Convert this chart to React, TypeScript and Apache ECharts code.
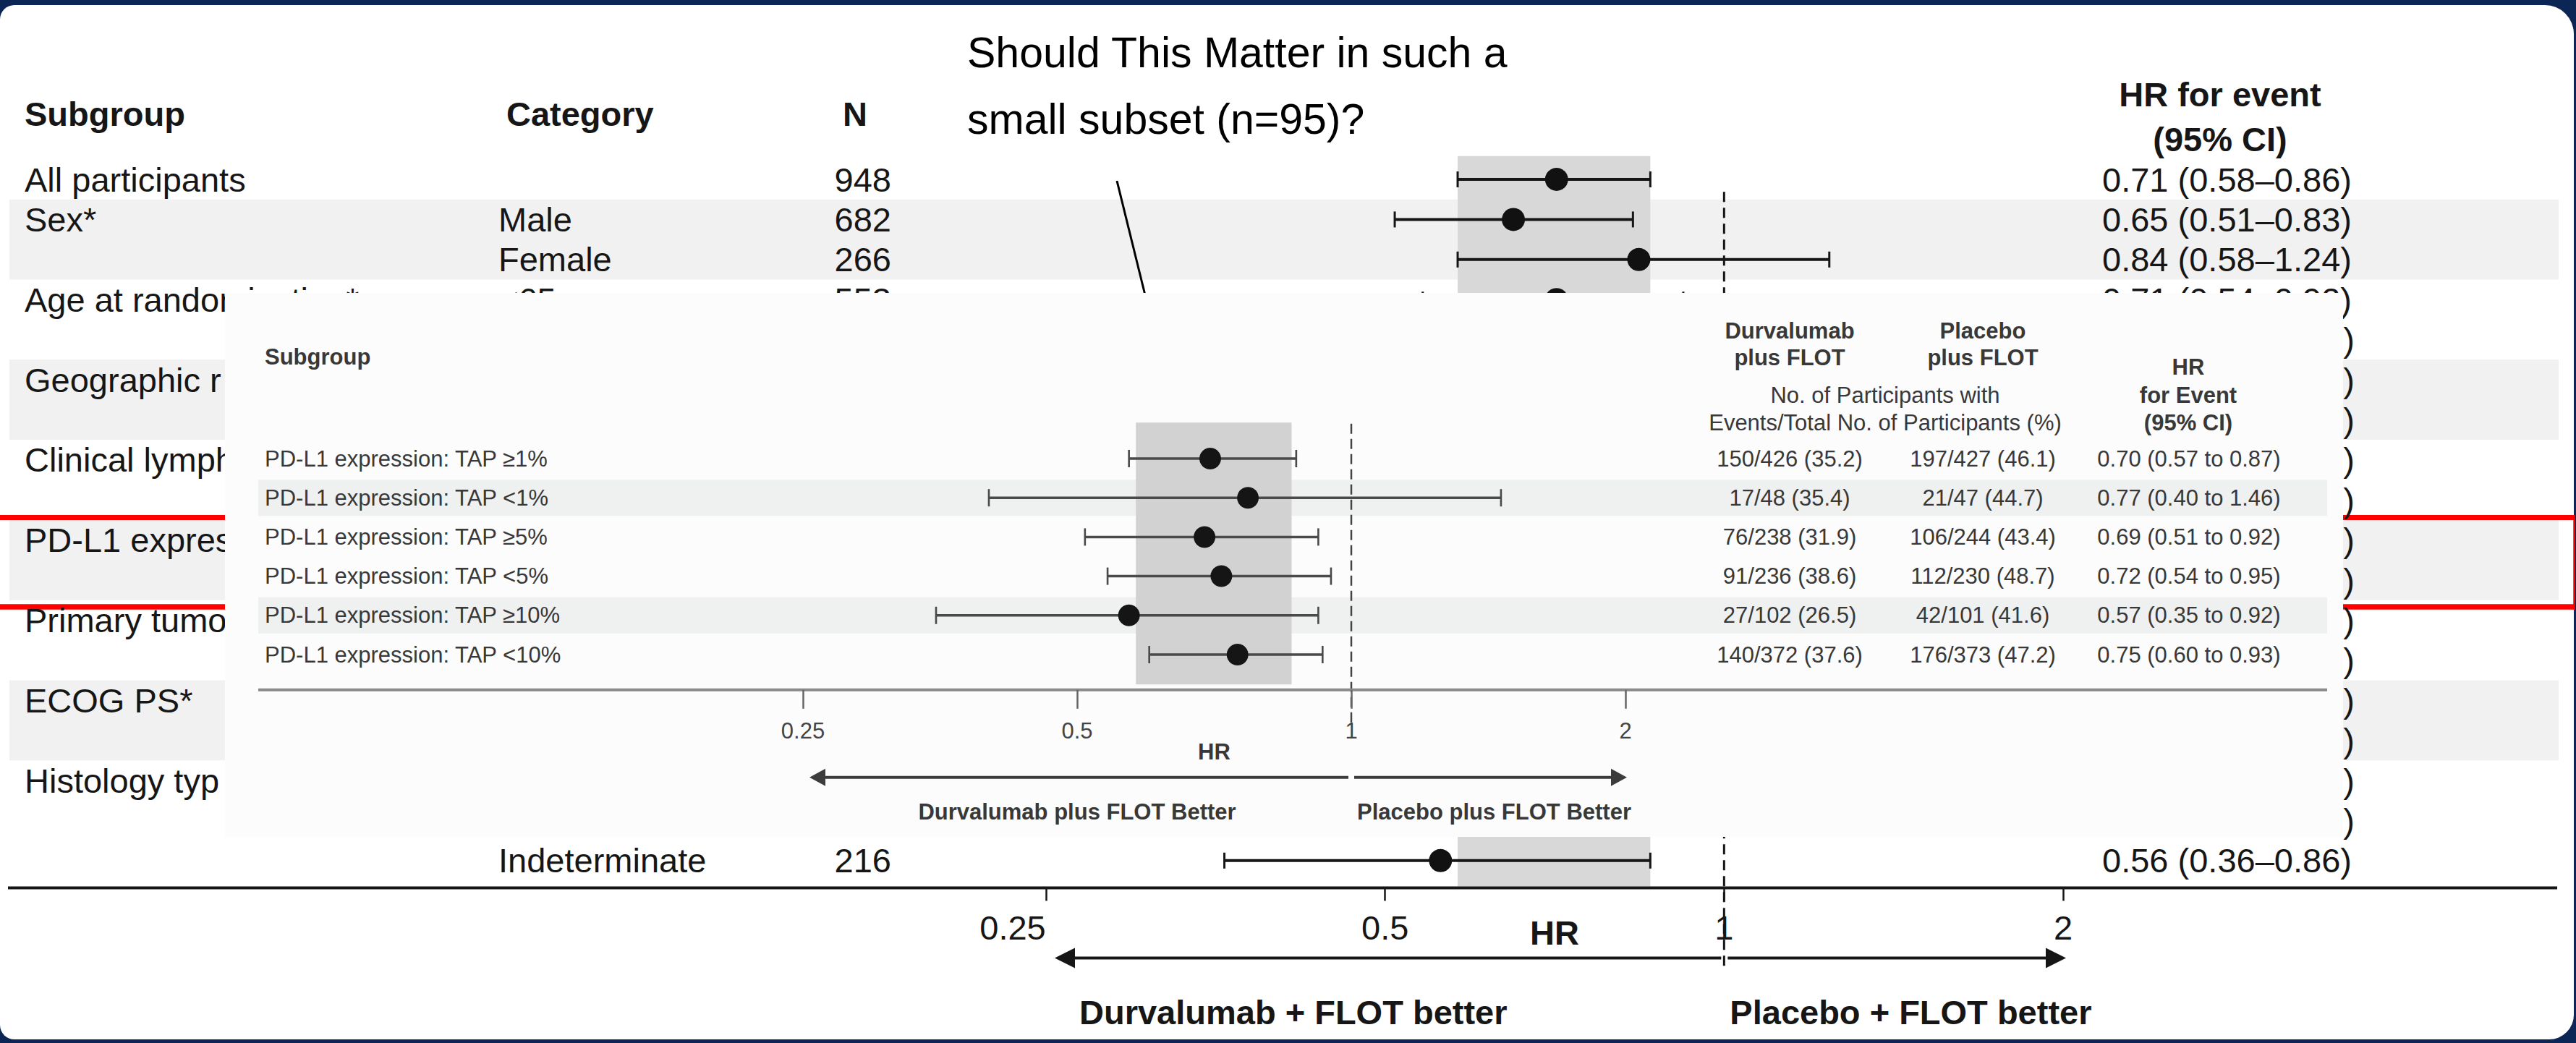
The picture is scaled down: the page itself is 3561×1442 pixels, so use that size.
import React, { useEffect, useRef } from "react";
import * as echarts from "echarts";

const FONT = "'Liberation Sans', Arial, Helvetica, sans-serif";
const INK = "#161616";
const INSET_INK = "#383838";

// ---------- main forest plot (partly covered by the inset) ----------
const subgroupNames = [
  "All participants",
  "Sex*",
  "Age at randomization*",
  "Geographic region",
  "Clinical lymph node status",
  "PD-L1 expression",
  "Primary tumor location",
  "ECOG PS*",
  "Histology type",
];
const subgroupRows = [0, 1, 3, 5, 7, 9, 11, 13, 15];
const shadedGroupStartRows = [1, 5, 9, 13];
const mainRows = [0, 1, 2, 3, 17];
const mainCategories = ["", "Male", "Female", "<65 years", "Indeterminate"];
const mainN = [948, 682, 266, 553, 216];
const mainHR = [0.71, 0.65, 0.84, 0.71, 0.56];
const mainLower = [0.58, 0.51, 0.58, 0.54, 0.36];
const mainUpper = [0.86, 0.83, 1.24, 0.92, 0.86];
const coveredRows = [4, 5, 6, 7, 8, 9, 10, 11, 12, 13, 14, 15, 16];
const overallCI = [0.58, 0.86];

// ---------- inset (PD-L1 subgroups) ----------
const insetLabels = [
  "PD-L1 expression: TAP \u22651%",
  "PD-L1 expression: TAP <1%",
  "PD-L1 expression: TAP \u22655%",
  "PD-L1 expression: TAP <5%",
  "PD-L1 expression: TAP \u226510%",
  "PD-L1 expression: TAP <10%",
];
const insetDurva = ["150/426 (35.2)", "17/48 (35.4)", "76/238 (31.9)", "91/236 (38.6)", "27/102 (26.5)", "140/372 (37.6)"];
const insetPlacebo = ["197/427 (46.1)", "21/47 (44.7)", "106/244 (43.4)", "112/230 (48.7)", "42/101 (41.6)", "176/373 (47.2)"];
const insetHR = [0.7, 0.77, 0.69, 0.72, 0.57, 0.75];
const insetLower = [0.57, 0.4, 0.51, 0.54, 0.35, 0.6];
const insetUpper = [0.87, 1.46, 0.92, 0.95, 0.92, 0.93];
const insetShadedRows = [1, 4];

const MAIN_Y = [-0.58, 17.68];
const INSET_Y = [-0.92, 5.9];
const INSET_LEFT = 311;

const f2 = (v: number) => v.toFixed(2);
const tickText = (v: number) => String(Number(v.toFixed(2)));

function txt(text: string, x: number, y: number, size: number, o: any = {}) {
  const align = o.align || "left";
  const v = o.v || "middle";
  const el: any = {
    type: "text",
    x,
    y,
    style: {
      text,
      font: `${o.bold ? "bold " : ""}${size}px ${FONT}`,
      fill: o.color || INK,
      align,
      verticalAlign: v,
      textAlign: align,
      textVerticalAlign: v,
    },
  };
  if (o.width) {
    el.style.width = o.width;
    el.style.overflow = "truncate";
    el.style.ellipsis = "";
  }
  if (o.z !== undefined) el.z = o.z;
  return el;
}

function ln(x1: number, y1: number, x2: number, y2: number, stroke: string, lineWidth: number, dash?: number[], z?: number) {
  const el: any = { type: "line", shape: { x1, y1, x2, y2 }, style: { stroke, lineWidth } };
  if (dash) el.style.lineDash = dash;
  if (z !== undefined) el.z = z;
  return el;
}

function arrowHead(tipX: number, y: number, dir: number, len: number, half: number, fill: string) {
  return {
    type: "polygon",
    shape: { points: [[tipX, y], [tipX - dir * len, y - half], [tipX - dir * len, y + half]] },
    style: { fill },
  };
}

const ciRender = (capH: number, lw: number, color: string) => (params: any, api: any) => {
  const row = api.value(2);
  const a = api.coord([api.value(0), row]);
  const b = api.coord([api.value(1), row]);
  return {
    type: "group",
    children: [
      ln(a[0], a[1], b[0], b[1], color, lw),
      ln(a[0], a[1] - capH / 2, a[0], a[1] + capH / 2, color, lw * 0.75),
      ln(b[0], b[1] - capH / 2, b[0], b[1] + capH / 2, color, lw * 0.75),
    ],
  };
};

function buildOption(): any {
  const series: any[] = [];

  // ---- main chart ----
  series.push({
    type: "custom",
    name: "mainBands",
    xAxisIndex: 0,
    yAxisIndex: 0,
    z: 1,
    silent: true,
    data: shadedGroupStartRows.map((r) => [1, r]),
    renderItem: (params: any, api: any) => {
      const r = api.value(1);
      const y0 = api.coord([1, r - 0.5])[1];
      const y1 = api.coord([1, r + 1.5])[1];
      return { type: "rect", shape: { x: 13, y: y0, width: 3524, height: y1 - y0 }, style: { fill: "#f1f1f1" } };
    },
  });
  series.push({
    type: "custom",
    name: "mainOverallBand",
    xAxisIndex: 0,
    yAxisIndex: 0,
    z: 2,
    silent: true,
    encode: { x: [0, 1] },
    data: [[overallCI[0], overallCI[1]]],
    renderItem: (params: any, api: any) => {
      const p0 = api.coord([api.value(0), MAIN_Y[0]]);
      const p1 = api.coord([api.value(1), MAIN_Y[1]]);
      return { type: "rect", shape: { x: p0[0], y: p0[1], width: p1[0] - p0[0], height: p1[1] - p0[1] - 2 }, style: { fill: "#d8d8d8" } };
    },
  });
  series.push({
    type: "custom",
    name: "mainNull",
    xAxisIndex: 0,
    yAxisIndex: 0,
    z: 4,
    silent: true,
    data: [[1, 0.31]],
    renderItem: (params: any, api: any) => {
      const p = api.coord([api.value(0), api.value(1)]);
      const bottom = api.coord([1, MAIN_Y[1]])[1] + 110;
      return ln(p[0], p[1], p[0], bottom, INK, 3, [14, 8]);
    },
  });
  series.push({
    type: "custom",
    name: "mainCI",
    xAxisIndex: 0,
    yAxisIndex: 0,
    z: 4,
    silent: true,
    encode: { x: [0, 1], y: 2 },
    data: mainRows.map((r, i) => [mainLower[i], mainUpper[i], r]),
    renderItem: ciRender(22, 4, INK),
  });
  series.push({
    type: "scatter",
    name: "mainHR",
    xAxisIndex: 0,
    yAxisIndex: 0,
    z: 5,
    silent: true,
    symbol: "circle",
    symbolSize: 32,
    itemStyle: { color: "#111111", opacity: 1 },
    data: mainRows.map((r, i) => [mainHR[i], r]),
  });
  series.push({
    type: "custom",
    name: "mainTable",
    xAxisIndex: 0,
    yAxisIndex: 0,
    z: 4,
    silent: true,
    data: mainRows.map((r) => [1, r]),
    renderItem: (params: any, api: any) => {
      const i = params.dataIndex;
      const y = api.coord([1, api.value(1)])[1];
      return {
        type: "group",
        children: [
          txt(mainCategories[i], 689, y, 47),
          txt(String(mainN[i]), 1232, y, 47, { align: "right" }),
          txt(`${f2(mainHR[i])} (${f2(mainLower[i])}\u2013${f2(mainUpper[i])})`, 2906, y, 47),
        ],
      };
    },
  });
  series.push({
    type: "custom",
    name: "mainSubgroups",
    xAxisIndex: 0,
    yAxisIndex: 0,
    z: 4,
    silent: true,
    data: subgroupRows.map((r) => [1, r]),
    renderItem: (params: any, api: any) => {
      const r = api.value(1);
      const y = api.coord([1, r])[1];
      // rows beside the inset are cut at the inset's left edge
      const covered = r >= 4 && r <= 16;
      return txt(subgroupNames[params.dataIndex], 34, y, 47, covered ? { width: INSET_LEFT + 19 - 34 } : {});
    },
  });
  series.push({
    type: "custom",
    name: "coveredTails",
    xAxisIndex: 0,
    yAxisIndex: 0,
    z: 4,
    silent: true,
    data: coveredRows.map((r) => [1, r]),
    renderItem: (params: any, api: any) => {
      const y = api.coord([1, api.value(1)])[1];
      return txt(")", 3255, y, 47, { align: "right" });
    },
  });
  series.push({
    type: "custom",
    name: "mainArrows",
    xAxisIndex: 0,
    yAxisIndex: 0,
    z: 4,
    silent: true,
    data: [[1, MAIN_Y[1]]],
    renderItem: (params: any, api: any) => {
      const axisY = api.coord([1, MAIN_Y[1]])[1];
      const x25 = api.coord([0.25, 0])[0];
      const x1 = api.coord([1, 0])[0];
      const x2 = api.coord([2, 0])[0];
      const ay = axisY + 97;
      const lTip = x25 + 12;
      const rTip = x2 + 4;
      return {
        type: "group",
        children: [
          ln(11, axisY, 3535, axisY, INK, 4),
          ln(lTip + 20, ay, x1 - 4, ay, INK, 4),
          arrowHead(lTip, ay, -1, 28, 14, INK),
          ln(x1 + 5, ay, rTip - 20, ay, INK, 4),
          arrowHead(rTip, ay, 1, 28, 14, INK),
          txt("Durvalumab + FLOT better", x25 + 46, axisY + 172, 47, { bold: true }),
          txt("Placebo + FLOT better", x1 + 8, axisY + 172, 47, { bold: true }),
        ],
      };
    },
  });

  // ---- inset ----
  series.push({
    type: "custom",
    name: "insetBands",
    xAxisIndex: 1,
    yAxisIndex: 1,
    z: 11,
    silent: true,
    data: insetShadedRows.map((r) => [1, r]),
    renderItem: (params: any, api: any) => {
      const y = api.coord([1, api.value(1)])[1];
      return { type: "rect", shape: { x: 357, y: y - 25, width: 2860, height: 50 }, style: { fill: "#eff0f0" } };
    },
  });
  series.push({
    type: "custom",
    name: "insetOverallBand",
    xAxisIndex: 1,
    yAxisIndex: 1,
    z: 12,
    silent: true,
    encode: { x: [0, 1] },
    data: [[overallCI[0], overallCI[1]]],
    renderItem: (params: any, api: any) => {
      const p0 = api.coord([api.value(0), INSET_Y[0]]);
      const p1 = api.coord([api.value(1), 5.76]);
      return { type: "rect", shape: { x: p0[0], y: p0[1], width: p1[0] - p0[0], height: p1[1] - p0[1] }, style: { fill: "#d2d2d2" } };
    },
  });
  series.push({
    type: "custom",
    name: "insetNull",
    xAxisIndex: 1,
    yAxisIndex: 1,
    z: 13,
    silent: true,
    data: [[1, -0.89]],
    renderItem: (params: any, api: any) => {
      const p = api.coord([api.value(0), api.value(1)]);
      const bottom = api.coord([1, INSET_Y[1]])[1] + 48;
      return ln(p[0], p[1], p[0], bottom, "#444", 2.5, [14, 7]);
    },
  });
  series.push({
    type: "custom",
    name: "insetCI",
    xAxisIndex: 1,
    yAxisIndex: 1,
    z: 13,
    silent: true,
    encode: { x: [0, 1], y: 2 },
    data: insetLabels.map((_, i) => [insetLower[i], insetUpper[i], i]),
    renderItem: ciRender(24, 3.5, "#4a4a4a"),
  });
  series.push({
    type: "scatter",
    name: "insetHR",
    xAxisIndex: 1,
    yAxisIndex: 1,
    z: 14,
    silent: true,
    symbol: "circle",
    symbolSize: 30,
    itemStyle: { color: "#151515", opacity: 1 },
    data: insetLabels.map((_, i) => [insetHR[i], i]),
  });
  series.push({
    type: "custom",
    name: "insetTable",
    xAxisIndex: 1,
    yAxisIndex: 1,
    z: 13,
    silent: true,
    data: insetLabels.map((_, i) => [1, i]),
    renderItem: (params: any, api: any) => {
      const i = params.dataIndex;
      const y = api.coord([1, api.value(1)])[1];
      return {
        type: "group",
        children: [
          txt(insetLabels[i], 366, y, 31, { color: INSET_INK }),
          txt(insetDurva[i], 2474, y, 31, { color: INSET_INK, align: "center" }),
          txt(insetPlacebo[i], 2741, y, 31, { color: INSET_INK, align: "center" }),
          txt(`${f2(insetHR[i])} (${f2(insetLower[i])} to ${f2(insetUpper[i])})`, 3026, y, 31, { color: INSET_INK, align: "center" }),
        ],
      };
    },
  });
  series.push({
    type: "custom",
    name: "insetArrows",
    xAxisIndex: 1,
    yAxisIndex: 1,
    z: 13,
    silent: true,
    data: [[1, INSET_Y[1]]],
    renderItem: (params: any, api: any) => {
      const axisY = api.coord([1, INSET_Y[1]])[1];
      const x25 = api.coord([0.25, 0])[0];
      const x1 = api.coord([1, 0])[0];
      const x2 = api.coord([2, 0])[0];
      const ay = axisY + 121;
      const lTip = x25 + 9;
      const rTip = x2 + 2;
      const c = "#3c3c3c";
      return {
        type: "group",
        children: [
          ln(357, axisY, 3217, axisY, "#8a8a8a", 4),
          ln(lTip + 16, ay, x1 - 4, ay, c, 4),
          arrowHead(lTip, ay, -1, 22, 12, c),
          ln(x1 + 4, ay, rTip - 16, ay, c, 4),
          arrowHead(rTip, ay, 1, 22, 12, c),
          txt("Durvalumab plus FLOT Better", (x25 + x1) / 2, axisY + 169, 31, { bold: true, color: INSET_INK, align: "center" }),
          txt("Placebo plus FLOT Better", (x1 + x2) / 2 + 8, axisY + 169, 31, { bold: true, color: INSET_INK, align: "center" }),
        ],
      };
    },
  });

  const graphicEls: any[] = [
    { type: "rect", z: 0, shape: { x: 0, y: 7, width: 3558, height: 1430, r: [20, 40, 34, 20] }, style: { fill: "#ffffff" } },
    // red highlight around the PD-L1 rows
    ln(-2, 715.5, 3559, 715.5, "#ff0000", 7, undefined, 3),
    ln(-2, 839, 3559, 839, "#ff0000", 7.5, undefined, 3),
    ln(3558.5, 712, 3558.5, 843, "#ff0000", 2.5, undefined, 3),
    // main headers
    txt("Subgroup", 34, 157, 47, { bold: true, z: 6 }),
    txt("Category", 700, 157, 47, { bold: true, z: 6 }),
    txt("N", 1182, 157, 47, { bold: true, align: "center", z: 6 }),
    txt("HR for event", 3069, 130, 47, { bold: true, align: "center", z: 6 }),
    txt("(95% CI)", 3069, 192, 47, { bold: true, align: "center", z: 6 }),
    // annotation
    txt("Should This Matter in such a", 1337, 73, 59, { color: "#000", z: 6 }),
    txt("small subset (n=95)?", 1337, 165, 59, { color: "#000", z: 6 }),
    ln(1544, 250, 1583, 408, "#000", 3, undefined, 6),
    // inset panel
    { type: "rect", z: 10, shape: { x: INSET_LEFT, y: 405, width: 3239 - INSET_LEFT, height: 752 }, style: { fill: "#fcfcfc" } },
    txt("Subgroup", 366, 493, 31, { bold: true, color: INSET_INK, z: 13 }),
    txt("Durvalumab", 2474, 457, 31, { bold: true, color: INSET_INK, align: "center", z: 13 }),
    txt("plus FLOT", 2474, 494, 31, { bold: true, color: INSET_INK, align: "center", z: 13 }),
    txt("Placebo", 2741, 457, 31, { bold: true, color: INSET_INK, align: "center", z: 13 }),
    txt("plus FLOT", 2741, 494, 31, { bold: true, color: INSET_INK, align: "center", z: 13 }),
    txt("No. of Participants with", 2606, 546, 31, { color: INSET_INK, align: "center", z: 13 }),
    txt("Events/Total No. of Participants (%)", 2606, 584, 31, { color: INSET_INK, align: "center", z: 13 }),
    txt("HR", 3025, 507, 31, { bold: true, color: INSET_INK, align: "center", z: 13 }),
    txt("for Event", 3025, 546, 31, { bold: true, color: INSET_INK, align: "center", z: 13 }),
    txt("(95% CI)", 3025, 584, 31, { bold: true, color: INSET_INK, align: "center", z: 13 }),
  ];

  return {
    animation: false,
    backgroundColor: "#0b2555",
    textStyle: { fontFamily: FONT },
    grid: [
      { left: 1446, top: 215.87, width: 1406, height: (MAIN_Y[1] - MAIN_Y[0]) * 55.4, show: false },
      { left: 1110, top: 634 + INSET_Y[0] * 54.2, width: 1137, height: (INSET_Y[1] - INSET_Y[0]) * 54.2, show: false },
    ],
    xAxis: [
      {
        type: "log",
        logBase: 2,
        gridIndex: 0,
        position: "bottom",
        min: 0.25,
        max: 2,
        z: 3,
        axisLine: { show: false, onZero: false },
        axisTick: { show: true, length: 18, lineStyle: { color: INK, width: 2.5 } },
        splitLine: { show: false },
        axisLabel: {
          margin: 32,
          formatter: (v: number) => (Math.abs(v - 0.25) < 1e-9 ? "{l|0.25}" : `{n|${tickText(v)}}`),
          rich: {
            l: { fontSize: 47, fontFamily: FONT, color: INK, padding: [0, 92, 0, 0] },
            n: { fontSize: 47, fontFamily: FONT, color: INK },
          },
        },
        name: "HR",
        nameLocation: "middle",
        nameGap: 39,
        nameMoveOverlap: false,
        nameTextStyle: { fontSize: 47, fontWeight: "bold", color: INK, fontFamily: FONT },
      },
      {
        type: "log",
        logBase: 2,
        gridIndex: 1,
        position: "bottom",
        min: 0.25,
        max: 2,
        z: 13,
        axisLine: { show: false, onZero: false },
        axisTick: { show: true, length: 26, lineStyle: { color: "#666", width: 2.5 } },
        splitLine: { show: false },
        axisLabel: { margin: 41, fontSize: 31, color: "#444", fontFamily: FONT, formatter: (v: number) => tickText(v) },
        name: "HR",
        nameLocation: "middle",
        nameGap: 70,
        nameMoveOverlap: false,
        nameTextStyle: { fontSize: 31, fontWeight: "bold", color: INSET_INK, fontFamily: FONT },
      },
    ],
    yAxis: [
      { type: "value", gridIndex: 0, min: MAIN_Y[0], max: MAIN_Y[1], inverse: true, show: false },
      { type: "value", gridIndex: 1, min: INSET_Y[0], max: INSET_Y[1], inverse: true, show: false },
    ],
    graphic: { elements: graphicEls },
    series,
  };
}

export default function App() {
  const ref = useRef<HTMLDivElement>(null);
  useEffect(() => {
    if (!ref.current) return;
    const chart = echarts.init(ref.current, null, { renderer: "svg" });
    chart.setOption(buildOption());
    return () => chart.dispose();
  }, []);
  return <div ref={ref} style={{ position: "absolute", left: 0, top: 0, width: 3561, height: 1442 }} />;
}
